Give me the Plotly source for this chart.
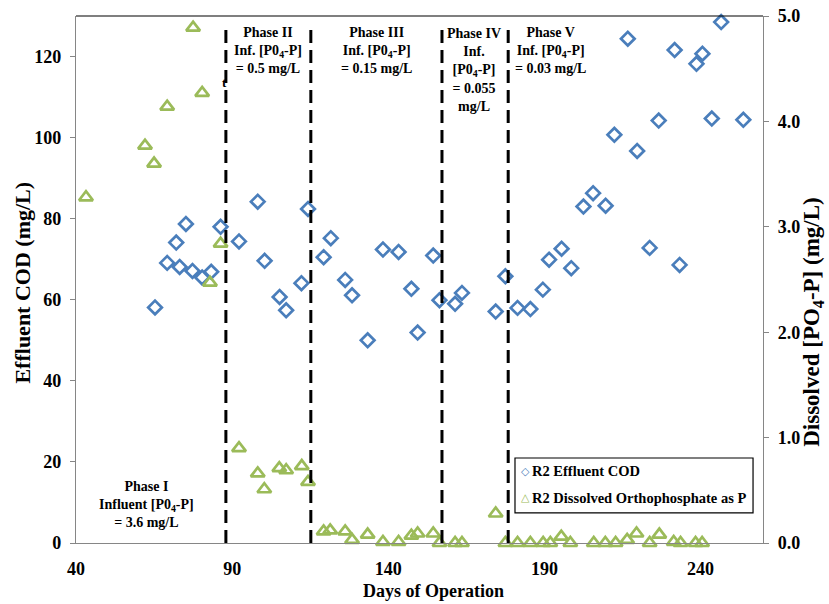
import plotly.graph_objects as go

# Effluent COD (mg/L) by day of operation
cod_days = [65.3, 69.2, 72.1, 73.2, 75.2, 77.3, 80.4, 83.3, 86.3, 92.2, 98.2, 100.4,
            105.2, 107.3, 112.2, 114.3, 119.3, 121.6, 126.2, 128.4, 133.4, 138.3,
            143.3, 147.4, 149.4, 154.4, 156.4, 161.4, 163.6, 174.4, 177.5, 181.4,
            185.5, 189.5, 191.5, 195.5, 198.6, 202.5, 205.6, 209.6, 212.4, 216.7,
            219.7, 223.7, 226.6, 231.7, 233.3, 238.7, 240.6, 243.6, 246.6, 253.7]
cod_values = [58.1, 69.1, 74.1, 68.1, 78.7, 67.1, 65.5, 66.9, 78.0, 74.4, 84.2, 69.6,
              60.7, 57.4, 64.1, 82.4, 70.5, 75.2, 64.9, 61.1, 50.0, 72.4,
              71.8, 62.7, 51.9, 70.9, 59.9, 59.0, 61.7, 57.1, 65.8, 58.0,
              57.7, 62.5, 69.9, 72.6, 67.8, 83.0, 86.3, 83.2, 100.7, 124.4,
              96.7, 72.8, 104.2, 121.6, 68.6, 118.2, 120.7, 104.7, 128.5, 104.4]

# Dissolved orthophosphate as P (mg/L) by day of operation
po4_days = [43.2, 62.1, 65.0, 69.2, 77.5, 80.4, 82.9, 86.3, 92.2, 98.2, 100.3, 105.1,
            107.3, 112.3, 114.3, 119.3, 121.4, 126.2, 128.4, 133.4, 138.3, 143.3,
            147.4, 149.4, 154.4, 156.4, 161.4, 163.6, 174.4, 177.5, 181.4, 185.5,
            189.6, 191.9, 195.4, 198.3, 205.8, 209.5, 212.8, 216.5, 219.5, 223.7,
            226.8, 231.4, 233.6, 238.4, 240.5]
po4_values = [3.28, 3.77, 3.60, 4.14, 4.89, 4.27, 2.47, 2.84, 0.90, 0.66, 0.51, 0.71,
              0.69, 0.73, 0.58, 0.11, 0.12, 0.11, 0.03, 0.08, 0.01, 0.01,
              0.07, 0.09, 0.09, 0.0, 0.0, 0.0, 0.28, 0.0, 0.0, 0.0,
              0.0, 0.0, 0.06, 0.0, 0.0, 0.0, 0.0, 0.03, 0.09, 0.0,
              0.08, 0.01, 0.0, 0.0, 0.0]

# Days at which the influent phosphate concentration changed
phase_changes = [88.0, 115.2, 157.2, 178.4]

x_ticks = [40, 90, 140, 190, 240]
cod_ticks = [0, 20, 40, 60, 80, 100, 120]
po4_ticks = [0, 1, 2, 3, 4, 5]

phase_labels = [
    (62.6, 9.6, "Phase I<br>Influent [P0<sub>4</sub>-P]<br>= 3.6 mg/L"),
    (101.4, 121.6, "Phase II<br>Inf. [P0<sub>4</sub>-P]<br>= 0.5 mg/L"),
    (136.1, 121.6, "Phase III<br>Inf. [P0<sub>4</sub>-P]<br>= 0.15 mg/L"),
    (167.3, 116.6, "Phase IV<br>Inf.<br>[P0<sub>4</sub>-P]<br>= 0.055<br>mg/L"),
    (192.0, 121.4, "Phase V<br>Inf. [P0<sub>4</sub>-P]<br>= 0.03 mg/L"),
]

series_names = ["R2 Effluent COD", "R2 Dissolved Orthophosphate as P"]

BLUE = "#4A7EBB"
GREEN = "#9BBB59"
GRAY = "#868686"
SERIF = "Liberation Serif"

fig = go.Figure()

fig.add_trace(go.Scatter(
    x=cod_days, y=cod_values, mode="markers", name=series_names[0],
    marker=dict(symbol="diamond-open", size=10.5, color=BLUE, line=dict(width=2.7, color=BLUE)),
    cliponaxis=False, showlegend=False,
))
fig.add_trace(go.Scatter(
    x=po4_days, y=po4_values, mode="markers", name=series_names[1],
    yaxis="y2",
    marker=dict(symbol="triangle-up-open", size=12, color=GREEN, line=dict(width=2.7, color=GREEN)),
    cliponaxis=False, showlegend=False,
))

for d in phase_changes:
    fig.add_shape(type="line", xref="x", yref="y", x0=d, x1=d, y0=0, y1=128,
                  line=dict(color="black", width=3, dash="13px,7px"))

# top border of the plotting area
fig.add_shape(type="line", xref="paper", yref="paper", x0=0, x1=1, y0=1, y1=1,
              line=dict(color="black", width=1.2))

bold = dict(family=SERIF, color="black", weight="bold")

for x, y, txt in phase_labels:
    fig.add_annotation(x=x, y=y, xref="x", yref="y", text=txt, showarrow=False,
                       font=dict(size=14, **bold), align="center",
                       xanchor="center", yanchor="middle")

fig.add_annotation(x=87.4, y=113.6, xref="x", yref="y", text="t", showarrow=False,
                   font=dict(size=13, **bold), xanchor="center")

# axis titles
fig.add_annotation(x=-0.078, y=0.495, xref="paper", yref="paper", text="Effluent COD (mg/L)",
                   textangle=-90, showarrow=False, xanchor="center", yanchor="middle",
                   font=dict(size=22, **bold))
fig.add_annotation(x=1.073, y=0.42, xref="paper", yref="paper",
                   text="Dissolved [PO<sub>4</sub>-P] (mg/L)",
                   textangle=-90, showarrow=False, xanchor="center", yanchor="middle",
                   font=dict(size=23, **bold))
fig.add_annotation(x=0.52, y=-0.091, xref="paper", yref="paper", text="Days of Operation",
                   showarrow=False, xanchor="center", yanchor="middle",
                   font=dict(size=18, **bold))

# legend box
lg_x0, lg_x1, lg_y0, lg_y1 = 0.639, 0.9855, 0.057, 0.1613
fig.add_shape(type="rect", xref="paper", yref="paper", x0=lg_x0, x1=lg_x1, y0=lg_y0, y1=lg_y1,
              line=dict(color="black", width=1.2), fillcolor="white", layer="above")
legend_rows = [(0.1366, "◇", BLUE, series_names[0]), (0.0854, "△", GREEN, series_names[1])]
for yy, sym, col, name in legend_rows:
    fig.add_annotation(x=lg_x0 + 0.0065, y=yy, xref="paper", yref="paper", text=sym,
                       showarrow=False, xanchor="left", yanchor="middle",
                       font=dict(family="DejaVu Sans", size=11, color=col, weight="bold"))
    fig.add_annotation(x=lg_x0 + 0.022, y=yy, xref="paper", yref="paper", text=name,
                       showarrow=False, xanchor="left", yanchor="middle",
                       font=dict(size=14.5, **bold))

axis_common = dict(showgrid=False, zeroline=False, showline=True, linecolor=GRAY,
                   linewidth=1.2, automargin=False)

fig.update_layout(
    width=829, height=604,
    margin=dict(l=76, r=66, t=16, b=61, autoexpand=False),
    paper_bgcolor="white", plot_bgcolor="white",
    showlegend=False,
    xaxis=dict(range=[40, 260], tickvals=x_ticks, ticks="", ticklabelstandoff=9,
               tickfont=dict(size=18, **bold), **axis_common),
    yaxis=dict(range=[0, 130], tickvals=cod_ticks, ticks="outside", ticklen=5,
               tickcolor=GRAY, ticklabelstandoff=5,
               tickfont=dict(size=18, **bold), **axis_common),
    yaxis2=dict(range=[0, 5], tickvals=po4_ticks, tickformat=".1f", overlaying="y",
                side="right", ticks="outside", ticklen=5, tickcolor=GRAY,
                ticklabelstandoff=5, tickfont=dict(size=18, **bold), **axis_common),
)

fig.write_html("out.html")
